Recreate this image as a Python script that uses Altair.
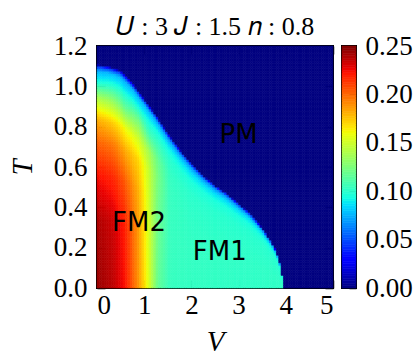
import altair as alt
import numpy as np
import pandas as pd

# ---- data ----
V_tc = [0, 0.25, 0.5, 0.75, 1.0, 1.25, 1.5, 1.75, 2.0, 2.25, 2.5, 2.75, 3.0, 3.25, 3.5, 3.75, 3.85, 3.92, 3.95]
Tc_vals = [1.11, 1.10, 1.08, 1.02, 0.94, 0.86, 0.77, 0.69, 0.62, 0.56, 0.51, 0.47, 0.42, 0.37, 0.30, 0.21, 0.15, 0.08, 0.0]

t_rows = [0, 0.3, 0.5, 0.65, 0.75, 0.85, 0.92, 0.97, 0.99, 1.0]
V_cols = [0, 0.35, 0.6, 0.9, 1.1, 1.3, 1.55, 2.0, 3.0, 3.95]
m_V000 = [0.245, 0.240, 0.224, 0.202, 0.182, 0.140, 0.096, 0.075, 0.045, 0]
m_V035 = [0.237, 0.233, 0.218, 0.196, 0.173, 0.132, 0.098, 0.078, 0.045, 0]
m_V060 = [0.223, 0.219, 0.204, 0.182, 0.160, 0.116, 0.093, 0.075, 0.045, 0]
m_V090 = [0.186, 0.184, 0.179, 0.170, 0.152, 0.124, 0.094, 0.077, 0.045, 0]
m_V110 = [0.154, 0.153, 0.151, 0.148, 0.138, 0.106, 0.092, 0.076, 0.045, 0]
m_V130 = [0.117, 0.119, 0.121, 0.123, 0.119, 0.105, 0.093, 0.074, 0.045, 0]
m_V155 = [0.104, 0.104, 0.104, 0.104, 0.103, 0.099, 0.090, 0.070, 0.042, 0]
m_V200 = [0.103, 0.103, 0.102, 0.101, 0.100, 0.096, 0.087, 0.068, 0.040, 0]
m_V300 = [0.102, 0.102, 0.101, 0.100, 0.099, 0.095, 0.086, 0.066, 0.040, 0]
m_V395 = [0.102, 0.102, 0.101, 0.100, 0.099, 0.095, 0.086, 0.066, 0.040, 0]
m_cols = [m_V000, m_V035, m_V060, m_V090, m_V110, m_V130, m_V155, m_V200, m_V300, m_V395]

region_text = ["PM", "FM1", "FM2"]
region_V = [3.0, 2.6, 0.89]
region_T = [0.76, 0.18, 0.32]

x_ticks = [0, 1, 2, 3, 4, 5]
y_ticks = [0.0, 0.2, 0.4, 0.6, 0.8, 1.0, 1.2]
cb_ticks = [0.0, 0.05, 0.10, 0.15, 0.20, 0.25]

# ---- build the grid ----
dV, dT = 0.05, 0.0125
rows = []
for i in range(int(round(5 / dV))):
    vc = (i + 0.5) * dV
    tcv = float(np.interp(vc, V_tc, Tc_vals)) if vc <= V_tc[-1] else 0.0
    for j in range(int(round(1.2 / dT))):
        tc = (j + 0.5) * dT
        if tcv <= 0 or tc >= tcv:
            m = 0.0
        else:
            t = tc / tcv
            prof = [np.interp(t, t_rows, c) for c in m_cols]
            m = float(np.interp(vc, V_cols, prof))
        rows.append({"V0": i * dV, "V1": (i + 1) * dV, "T0": j * dT, "T1": (j + 1) * dT, "m": m})
df = pd.DataFrame(rows)

# jet colormap
seg = {
    "r": [(0, 0), (0.35, 0), (0.66, 1), (0.89, 1), (1, 0.5)],
    "g": [(0, 0), (0.125, 0), (0.375, 1), (0.64, 1), (0.91, 0), (1, 0)],
    "b": [(0, 0.5), (0.11, 1), (0.34, 1), (0.65, 0), (1, 0)],
}
stops = sorted({p for k in seg for p, _ in seg[k]})
def chan(k, x):
    xs_ = [p for p, _ in seg[k]]
    ys_ = [v for _, v in seg[k]]
    return float(np.interp(x, xs_, ys_))
jet_colors = ["#%02x%02x%02x" % tuple(int(round(255 * chan(k, s))) for k in "rgb") for s in stops]
cmax = 0.25
cscale = alt.Scale(domain=[s * cmax for s in stops], range=jet_colors, interpolate="rgb", clamp=True)

SERIF = "Liberation Serif"
LBL = 27

def ax(orient, values, labels=True, fmt=None, title=None, **kw):
    d = dict(orient=orient, values=values, labels=labels, offset=-8, tickSize=8, tickWidth=1.5,
             tickColor="black", domain=False, grid=False, labelFont=SERIF, labelFontSize=LBL,
             labelColor="black", titleFont=SERIF, titleFontSize=29, titleFontStyle="italic",
             titleFontWeight="normal", titleColor="black")
    if fmt:
        d["format"] = fmt
    d["title"] = title if title else None
    d.update(kw)
    return alt.Axis(**d)

xs = alt.Scale(domain=[0, 5], nice=False, zero=False)
ys = alt.Scale(domain=[0, 1.2], nice=False, zero=False)

heat = alt.Chart(df).mark_rect(strokeWidth=0.6).encode(
    x=alt.X("V0:Q", scale=xs, axis=ax("bottom", x_ticks, fmt="d", title="V", labelPadding=4, titlePadding=9)),
    x2="V1",
    y=alt.Y("T0:Q", scale=ys, axis=ax("left", y_ticks, fmt=".1f", title="T", labelPadding=10, titlePadding=16)),
    y2="T1",
    color=alt.Color("m:Q", scale=cscale, legend=None),
    stroke=alt.Stroke("m:Q", scale=cscale, legend=None),
)

lab_df = pd.DataFrame({"txt": region_text, "V": region_V, "T": region_T})
labels = alt.Chart(lab_df).mark_text(font="DejaVu Sans", fontSize=26, color="black").encode(
    x=alt.X("V:Q", scale=xs, axis=ax("top", x_ticks, labels=False)),
    y=alt.Y("T:Q", scale=ys, axis=ax("right", y_ticks, labels=False)),
    text="txt:N",
)

title_txt = "\U0001D448\u2005:\u20053 \U0001D43D\u2005:\u20051.5 \U0001D45B\u2005:\u20050.8"
main = alt.layer(heat, labels).resolve_axis(x="independent", y="independent").properties(
    width=236, height=242,
    title=alt.TitleParams(title_txt, font=SERIF, fontSize=26, fontWeight="normal", color="black", offset=-8),
)

cb_rows = []
n_cb = 100
for k in range(n_cb):
    a = cmax * k / n_cb
    b = cmax * (k + 1) / n_cb
    cb_rows.append({"c0": a, "c1": b, "cm": (a + b) / 2, "x0": 0, "x1": 1})
cb_df = pd.DataFrame(cb_rows)
cbar = alt.Chart(cb_df).mark_rect(strokeWidth=0.6).encode(
    x=alt.X("x0:Q", scale=alt.Scale(domain=[0, 1], nice=False), axis=None),
    x2="x1",
    y=alt.Y("c0:Q", scale=alt.Scale(domain=[0, cmax], nice=False, zero=False),
            axis=ax("right", cb_ticks, fmt=".2f", labelPadding=9, offset=-7, tickSize=7)),
    y2="c1",
    color=alt.Color("cm:Q", scale=cscale, legend=None),
    stroke=alt.Stroke("cm:Q", scale=cscale, legend=None),
).properties(width=14, height=242)

chart = alt.hconcat(main, cbar, spacing=5).properties(
    padding={"left": 7, "top": 13, "right": 0, "bottom": 0},
    background="white",
).configure_view(stroke="black", strokeWidth=2).configure_concat(spacing=5).configure_axis(
    labelFont=SERIF, titleFont=SERIF
).configure_title(font=SERIF)

chart.save("out.html", embed_options={"renderer": "svg", "actions": False})
